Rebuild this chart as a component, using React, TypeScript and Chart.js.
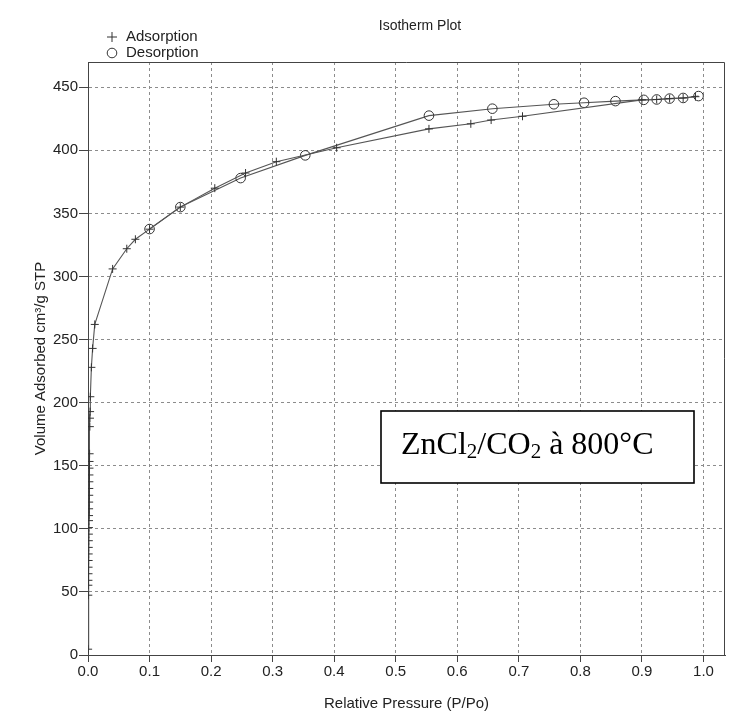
import React, { useEffect, useRef } from 'react';
import { Chart, registerables } from 'chart.js';

Chart.register(...registerables);

// ---------------- data ----------------
const chartTitle = 'Isotherm Plot';
const seriesNames = ['Adsorption', 'Desorption'];
const xAxisTitle = 'Relative Pressure (P/Po)';
const yAxisTitle = 'Volume Adsorbed cm³/g STP';

const adsorptionP = [
  0.0002, 0.0005, 0.0006, 0.0007, 0.0008, 0.0009, 0.001, 0.0011, 0.0012, 0.0013,
  0.0014, 0.0015, 0.0016, 0.0017, 0.0018, 0.0019, 0.002, 0.0021, 0.0022, 0.0023,
  0.0024, 0.0025, 0.0026, 0.003, 0.0032, 0.0034, 0.0038, 0.0055, 0.0075, 0.011,
  0.04, 0.063, 0.077, 0.1, 0.15, 0.206, 0.256, 0.306, 0.404, 0.554,
  0.622, 0.655, 0.706, 0.9, 0.924, 0.945, 0.967, 0.987,
];
const adsorptionV = [
  4.6, 47.4, 55.3, 59.2, 64.4, 69.6, 74.9, 80.1, 85.3, 90.6,
  95.8, 101, 106.5, 110.5, 115.9, 121.2, 126.6, 132, 137.3, 142.7,
  148.1, 153.4, 159.5, 181, 187.7, 192.9, 204.7, 228, 243, 262,
  306, 322, 329.5, 337.5, 355, 370, 382, 391, 402, 417,
  421, 424, 427, 440, 440.3, 441, 441.5, 442.5,
];

const desorptionP = [0.992, 0.967, 0.945, 0.924, 0.903, 0.857, 0.806, 0.757, 0.657, 0.554, 0.353, 0.248, 0.15, 0.1];
const desorptionV = [443, 441.5, 441, 440.3, 440, 439, 437.7, 436.5, 433, 427.5, 396, 378, 355, 337.6];

const xTickValues = [0, 0.1, 0.2, 0.3, 0.4, 0.5, 0.6, 0.7, 0.8, 0.9, 1.0];
const yTickValues = [0, 50, 100, 150, 200, 250, 300, 350, 400, 450];

// annotation text pieces (sub = subscript)
const sampleLabelParts = [
  { t: 'ZnCl', sub: false },
  { t: '2', sub: true },
  { t: '/CO', sub: false },
  { t: '2', sub: true },
  { t: ' à 800°C', sub: false },
];

// ---------------- styles ----------------
const SANS = '"Liberation Sans", Arial, Helvetica, sans-serif';
const SERIF = '"Liberation Serif", "Times New Roman", Times, serif';
const TEXT = '#222';
const AXIS = '#444';
const GRID = '#8c8c8c';
const LINE = '#555';
const MARK = '#333';

const overlayPlugin = {
  id: 'overlay',
  afterDraw(chart: any) {
    const { ctx, chartArea: a } = chart;
    ctx.save();

    // top and right frame
    ctx.strokeStyle = AXIS;
    ctx.lineWidth = 1;
    ctx.setLineDash([]);
    ctx.beginPath();
    ctx.moveTo(a.left, a.top + 0.5);
    ctx.lineTo(a.right - 0.5, a.top + 0.5);
    ctx.lineTo(a.right - 0.5, a.bottom);
    ctx.stroke();

    // title
    ctx.fillStyle = TEXT;
    ctx.font = `14px ${SANS}`;
    ctx.textAlign = 'center';
    ctx.textBaseline = 'middle';
    ctx.fillText(chartTitle, 420, 26);

    // legend
    ctx.textAlign = 'left';
    ctx.font = `15px ${SANS}`;
    const lx = 112;
    const ly = [37, 53];
    ctx.strokeStyle = MARK;
    ctx.lineWidth = 1;
    ctx.beginPath();
    ctx.moveTo(lx - 5, ly[0]);
    ctx.lineTo(lx + 5, ly[0]);
    ctx.moveTo(lx, ly[0] - 5);
    ctx.lineTo(lx, ly[0] + 5);
    ctx.stroke();
    ctx.beginPath();
    ctx.arc(lx, ly[1], 4.8, 0, Math.PI * 2);
    ctx.stroke();
    ctx.fillText(seriesNames[0], 126, ly[0]);
    ctx.fillText(seriesNames[1], 126, ly[1]);

    // annotation box
    const bx = a.left + 293;
    const by = a.top + 349;
    const bw = 313;
    const bh = 72;
    ctx.fillStyle = '#fff';
    ctx.fillRect(bx, by, bw, bh);
    ctx.strokeStyle = '#000';
    ctx.lineWidth = 1.6;
    ctx.strokeRect(bx, by, bw, bh);

    ctx.fillStyle = '#000';
    ctx.textBaseline = 'alphabetic';
    let tx = bx + 20;
    const base = by + 43;
    for (const p of sampleLabelParts) {
      ctx.font = p.sub ? `21px ${SERIF}` : `32px ${SERIF}`;
      ctx.fillText(p.t, tx, p.sub ? base + 4 : base);
      tx += ctx.measureText(p.t).width;
    }
    ctx.restore();
  },
};

export default function App() {
  const ref = useRef<HTMLCanvasElement | null>(null);

  useEffect(() => {
    if (!ref.current) return;
    Chart.defaults.font.family = SANS;
    Chart.defaults.font.size = 15;
    Chart.defaults.color = TEXT;

    const adsorption = adsorptionP.map((x, i) => ({ x, y: adsorptionV[i] }));
    const desorption = desorptionP.map((x, i) => ({ x, y: desorptionV[i] }));

    const chart = new Chart(ref.current, {
      type: 'line',
      data: {
        datasets: [
          {
            label: seriesNames[0],
            data: adsorption,
            borderColor: LINE,
            borderWidth: 1.1,
            pointStyle: 'cross',
            pointRadius: 4,
            pointBorderColor: MARK,
            pointBorderWidth: 1,
            pointBackgroundColor: MARK,
            tension: 0,
            fill: false,
          },
          {
            label: seriesNames[1],
            data: desorption,
            borderColor: LINE,
            borderWidth: 1.1,
            pointStyle: 'circle',
            pointRadius: 4.8,
            pointBorderColor: MARK,
            pointBorderWidth: 1,
            pointBackgroundColor: 'rgba(0,0,0,0)',
            tension: 0,
            fill: false,
          },
        ],
      },
      options: {
        animation: false,
        responsive: false,
        devicePixelRatio: 1,
        layout: { padding: { top: 62, right: 25, left: 0, bottom: 0 } },
        plugins: {
          legend: { display: false },
          title: { display: false },
          tooltip: { enabled: false },
        },
        scales: {
          x: {
            type: 'linear',
            min: 0,
            max: 1.035,
            afterBuildTicks: (s: any) => {
              s.ticks = xTickValues.map((v) => ({ value: v }));
            },
            afterFit: (s: any) => {
              s.height = 58;
            },
            ticks: {
              color: TEXT,
              font: { size: 15 },
              padding: 1,
              maxRotation: 0,
              autoSkip: false,
              callback: (v: any) => Number(v).toFixed(1),
            },
            grid: {
              color: (c: any) => (c.tick && c.tick.value === 0 ? 'rgba(0,0,0,0)' : GRID),
              lineWidth: 1,
              tickLength: 7,
              tickColor: AXIS,
              tickWidth: 1,
            },
            border: { display: true, color: AXIS, width: 1, dash: [3, 3] },
            title: {
              display: true,
              text: xAxisTitle,
              color: TEXT,
              font: { size: 15 },
              padding: { top: 0, bottom: 0 },
            },
          },
          y: {
            type: 'linear',
            min: 0,
            max: 470,
            afterBuildTicks: (s: any) => {
              s.ticks = yTickValues.map((v) => ({ value: v }));
            },
            afterFit: (s: any) => {
              s.width = 88;
            },
            ticks: {
              color: TEXT,
              font: { size: 15 },
              padding: 1,
              autoSkip: false,
              callback: (v: any) => String(v),
            },
            grid: {
              color: (c: any) => (c.tick && c.tick.value === 0 ? 'rgba(0,0,0,0)' : GRID),
              lineWidth: 1,
              tickLength: 9,
              tickColor: AXIS,
              tickWidth: 1,
            },
            border: { display: true, color: AXIS, width: 1, dash: [3, 3] },
            title: {
              display: true,
              text: yAxisTitle,
              color: TEXT,
              font: { size: 15 },
              padding: { top: 32, bottom: 0 },
            },
          },
        },
      },
      plugins: [overlayPlugin],
    });

    return () => chart.destroy();
  }, []);

  return (
    <div style={{ position: 'absolute', left: 0, top: 0, width: 750, height: 713, background: '#fff' }}>
      <canvas ref={ref} width={750} height={713} style={{ display: 'block', width: 750, height: 713 }} />
    </div>
  );
}
